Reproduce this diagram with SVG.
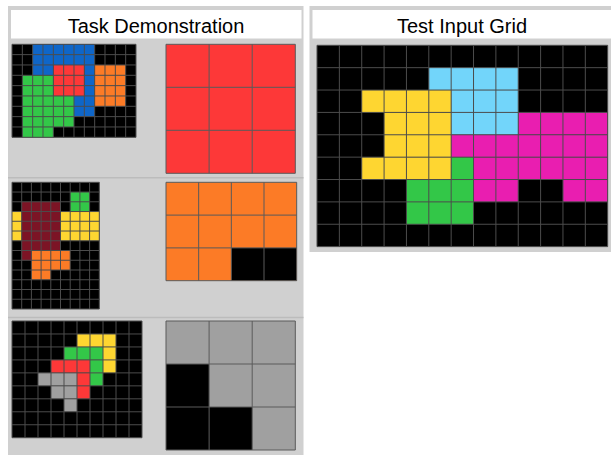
<svg xmlns="http://www.w3.org/2000/svg" width="611" height="455" viewBox="0 0 611 455">
<style>
.panel{fill:#d0d0d0}
.title{fill:#ffffff}
.ttl{font-family:"Liberation Sans",Arial,sans-serif;font-size:20px;fill:#000;text-anchor:middle}
.sep{stroke:#bcbcbc;stroke-width:1.5}
.gl{fill:none;stroke:#4c4c4c;stroke-width:1;vector-effect:non-scaling-stroke}
.glo{fill:none;stroke:#5a5a5a;stroke-width:1;vector-effect:non-scaling-stroke}
.k{fill:#000}.b{fill:#0f66c8}.r{fill:#fd3838}.g{fill:#33c748}.o{fill:#fc7b26}
.y{fill:#fed631}.m{fill:#7c1425}.c{fill:#72d5fa}.p{fill:#e91eb0}.s{fill:#a0a0a0}
</style>
<g id="task-panel">
<rect class="panel" x="8" y="6" width="295.5" height="449"/>
<rect class="title" x="11" y="10" width="290.5" height="28.5"/>
<text class="ttl" x="156" y="32.5">Task Demonstration</text>
<line class="sep" x1="8" y1="177.7" x2="303.5" y2="177.7"/>
<line class="sep" x1="8" y1="317.5" x2="303.5" y2="317.5"/>
</g>
<g id="test-panel">
<rect class="panel" x="309.5" y="6" width="301.5" height="246"/>
<rect class="title" x="312.5" y="10" width="298.5" height="28.5"/>
<text class="ttl" x="462" y="32.5">Test Input Grid</text>
</g>
<g id="ex1-input" transform="translate(12,44.3) scale(10.333,10.333)">
<rect class="k" x="0" y="0" width="12" height="9"/>
<rect class="b" x="2" y="0" width="6" height="2"/>
<rect class="b" x="2" y="2" width="2" height="1"/>
<rect class="b" x="7" y="2" width="1" height="3"/>
<rect class="b" x="6" y="5" width="2" height="2"/>
<rect class="r" x="4" y="2" width="3" height="3"/>
<rect class="o" x="8" y="2" width="3" height="4"/>
<rect class="g" x="1" y="3" width="3" height="2"/>
<rect class="g" x="1" y="5" width="5" height="3"/>
<rect class="g" x="1" y="8" width="3" height="1"/>
<path class="gl" d="M0 0V9M1 0V9M2 0V9M3 0V9M4 0V9M5 0V9M6 0V9M7 0V9M8 0V9M9 0V9M10 0V9M11 0V9M12 0V9M0 0H12M0 1H12M0 2H12M0 3H12M0 4H12M0 5H12M0 6H12M0 7H12M0 8H12M0 9H12"/>
</g>
<g id="ex1-output" transform="translate(166,44.3) scale(43.1,43)">
<rect class="r" x="0" y="0" width="3" height="3"/>
<path class="glo" d="M0 0V3M1 0V3M2 0V3M3 0V3M0 0H3M0 1H3M0 2H3M0 3H3"/>
</g>
<g id="ex2-input" transform="translate(12,182.3) scale(9.7,9.745)">
<rect class="k" x="0" y="0" width="9" height="13"/>
<rect class="g" x="6" y="1" width="2" height="2"/>
<rect class="m" x="1" y="2" width="4" height="5"/>
<rect class="m" x="1" y="7" width="1" height="1"/>
<rect class="y" x="0" y="3" width="1" height="3"/>
<rect class="y" x="5" y="3" width="4" height="3"/>
<rect class="o" x="2" y="7" width="4" height="2"/>
<rect class="o" x="2" y="9" width="2" height="1"/>
<path class="gl" d="M0 0V13M1 0V13M2 0V13M3 0V13M4 0V13M5 0V13M6 0V13M7 0V13M8 0V13M9 0V13M0 0H9M0 1H9M0 2H9M0 3H9M0 4H9M0 5H9M0 6H9M0 7H9M0 8H9M0 9H9M0 10H9M0 11H9M0 12H9M0 13H9"/>
</g>
<g id="ex2-output" transform="translate(166,182.3) scale(32.67,32.8)">
<rect class="o" x="0" y="0" width="4" height="3"/>
<rect class="k" x="2" y="2" width="2" height="1"/>
<path class="glo" d="M0 0V3M1 0V3M2 0V3M3 0V3M4 0V3M0 0H4M0 1H4M0 2H4M0 3H4"/>
</g>
<g id="ex3-input" transform="translate(12,321) scale(13,12.97)">
<rect class="k" x="0" y="0" width="10" height="9"/>
<rect class="y" x="5" y="1" width="3" height="1"/>
<rect class="y" x="7" y="2" width="1" height="2"/>
<rect class="g" x="4" y="2" width="3" height="1"/>
<rect class="g" x="6" y="3" width="1" height="2"/>
<rect class="r" x="3" y="3" width="3" height="1"/>
<rect class="r" x="5" y="4" width="1" height="2"/>
<rect class="s" x="2" y="4" width="3" height="1"/>
<rect class="s" x="3" y="5" width="2" height="1"/>
<rect class="s" x="4" y="6" width="1" height="1"/>
<path class="gl" d="M0 0V9M1 0V9M2 0V9M3 0V9M4 0V9M5 0V9M6 0V9M7 0V9M8 0V9M9 0V9M10 0V9M0 0H10M0 1H10M0 2H10M0 3H10M0 4H10M0 5H10M0 6H10M0 7H10M0 8H10M0 9H10"/>
</g>
<g id="ex3-output" transform="translate(166,321) scale(43.1,43)">
<rect class="s" x="0" y="0" width="3" height="3"/>
<rect class="k" x="0" y="1" width="1" height="2"/>
<rect class="k" x="1" y="2" width="1" height="1"/>
<path class="glo" d="M0 0V3M1 0V3M2 0V3M3 0V3M0 0H3M0 1H3M0 2H3M0 3H3"/>
</g>
<g id="test-input" transform="translate(317,45.3) scale(22.36,22.37)">
<rect class="k" x="0" y="0" width="13" height="9"/>
<rect class="c" x="5" y="1" width="4" height="1"/>
<rect class="c" x="6" y="2" width="3" height="2"/>
<rect class="y" x="2" y="2" width="4" height="1"/>
<rect class="y" x="3" y="3" width="3" height="2"/>
<rect class="y" x="2" y="5" width="4" height="1"/>
<rect class="p" x="9" y="3" width="4" height="1"/>
<rect class="p" x="6" y="4" width="7" height="1"/>
<rect class="p" x="7" y="5" width="6" height="1"/>
<rect class="p" x="7" y="6" width="2" height="1"/>
<rect class="p" x="11" y="6" width="2" height="1"/>
<rect class="g" x="6" y="5" width="1" height="1"/>
<rect class="g" x="4" y="6" width="3" height="2"/>
<path class="gl" d="M0 0V9M1 0V9M2 0V9M3 0V9M4 0V9M5 0V9M6 0V9M7 0V9M8 0V9M9 0V9M10 0V9M11 0V9M12 0V9M13 0V9M0 0H13M0 1H13M0 2H13M0 3H13M0 4H13M0 5H13M0 6H13M0 7H13M0 8H13M0 9H13"/>
</g>
<g id="connectors"/>
</svg>
